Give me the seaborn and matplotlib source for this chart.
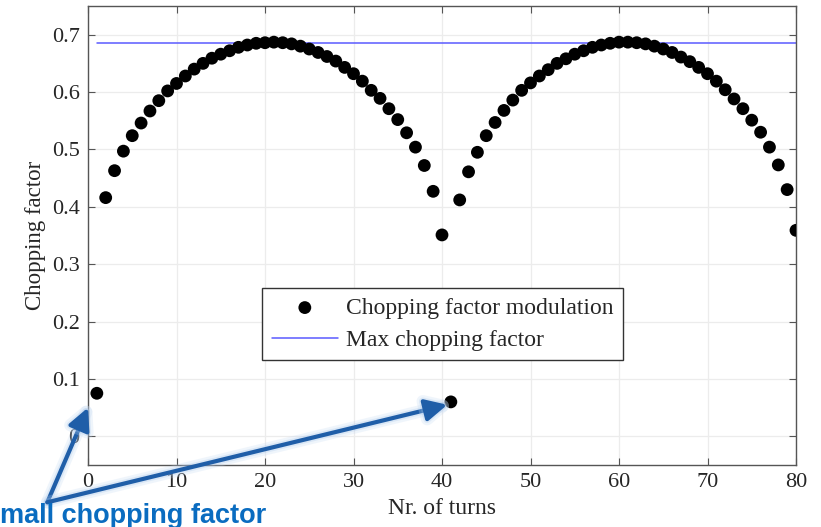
import matplotlib
matplotlib.use("Agg")
import matplotlib.pyplot as plt
import matplotlib.patheffects as pe
import seaborn as sns
import pandas as pd
import numpy as np

# Chopping factor per turn (turns 1..80)
turns = list(range(1, 81))
chopping = [
    0.075, 0.416, 0.463, 0.497, 0.524, 0.546, 0.567, 0.585, 0.602, 0.615,
    0.628, 0.640, 0.650, 0.659, 0.666, 0.672, 0.678, 0.682, 0.685, 0.686,
    0.687, 0.686, 0.684, 0.680, 0.675, 0.669, 0.662, 0.654, 0.643, 0.632,
    0.619, 0.603, 0.589, 0.571, 0.552, 0.529, 0.504, 0.472, 0.427, 0.351,
    0.060, 0.412, 0.461, 0.495, 0.524, 0.547, 0.568, 0.586, 0.603, 0.616,
    0.628, 0.639, 0.650, 0.658, 0.666, 0.672, 0.678, 0.682, 0.685, 0.687,
    0.687, 0.686, 0.684, 0.680, 0.675, 0.669, 0.661, 0.653, 0.643, 0.632,
    0.619, 0.604, 0.588, 0.571, 0.551, 0.530, 0.504, 0.473, 0.430, 0.359,
]
max_chopping = 0.686

x_ticks = [0, 10, 20, 30, 40, 50, 60, 70, 80]
y_ticks = [0, 0.1, 0.2, 0.3, 0.4, 0.5, 0.6, 0.7]
y_tick_labels = ["0", "0.1", "0.2", "0.3", "0.4", "0.5", "0.6", "0.7"]

df = pd.DataFrame({"turn": turns, "chopping": chopping})
df_max = pd.DataFrame({"turn": [turns[0], turns[-1]],
                       "chopping": [max_chopping, max_chopping]})

sns.set_theme(style="whitegrid")
plt.rcParams["font.family"] = ["Liberation Serif", "DejaVu Serif"]

fig = plt.figure(figsize=(8.21, 5.27), dpi=100)
ax = fig.add_axes([88 / 821, 1 - 465 / 527, 708 / 821, 459 / 527])

sns.scatterplot(data=df, x="turn", y="chopping", ax=ax, s=85, color="black",
                edgecolor="none", label="Chopping factor modulation", zorder=3)
sns.lineplot(data=df_max, x="turn", y="chopping", ax=ax, color="#5a5aff",
             linewidth=1.1, label="Max chopping factor", zorder=2)

ax.set_xlim(0, 80)
ax.set_ylim(-0.05, 0.75)
ax.set_xticks(x_ticks)
ax.set_yticks(y_ticks)
ax.set_yticklabels(y_tick_labels)
ax.set_xlabel("Nr. of turns", fontsize=17, color="#262626", labelpad=4)
ax.set_ylabel("Chopping factor", fontsize=16.5, color="#262626", labelpad=4)

ax.grid(True, color="#ececec", linewidth=0.9)
for s in ax.spines.values():
    s.set_color("#555555")
    s.set_linewidth(1.0)
ax.tick_params(axis="both", which="both", direction="in", length=5,
               width=0.8, color="#555555", labelsize=16, labelcolor="#262626",
               top=True, right=True, bottom=True, left=True, pad=6)

leg = ax.legend(loc="center", bbox_to_anchor=(0.501, 0.307), fontsize=17,
                frameon=True, fancybox=False, edgecolor="#333333",
                framealpha=1.0, handlelength=2.8, borderpad=0.4,
                labelspacing=0.45, handletextpad=0.35, borderaxespad=0)
leg.get_frame().set_linewidth(1.0)

# Callout for the two low turns
arrow_color = "#1f5ea8"
glow = [pe.Stroke(linewidth=9, foreground="#c2d8f2", alpha=0.25),
        pe.Stroke(linewidth=5.5, foreground="#9cc0ea", alpha=0.25),
        pe.Normal()]
start = (-4.6, -0.115)
for tip in [(0.0, 0.05), (40.6, 0.055)]:
    ann = ax.annotate("", xy=tip, xytext=start, xycoords="data",
                      textcoords="data", annotation_clip=False,
                      arrowprops=dict(arrowstyle="-|>,head_length=0.6,head_width=0.3",
                                      color=arrow_color, lw=3,
                                      mutation_scale=22,
                                      shrinkA=0, shrinkB=0))
    ann.arrow_patch.set_path_effects(glow)

fig.text(-15 / 821, 1 - 516 / 527, "small chopping factor", fontsize=19.5,
         fontweight="bold", color="#0a6cc0", ha="left", va="center",
         family=["Liberation Sans", "DejaVu Sans"])

fig.savefig("out.png", dpi=100)
